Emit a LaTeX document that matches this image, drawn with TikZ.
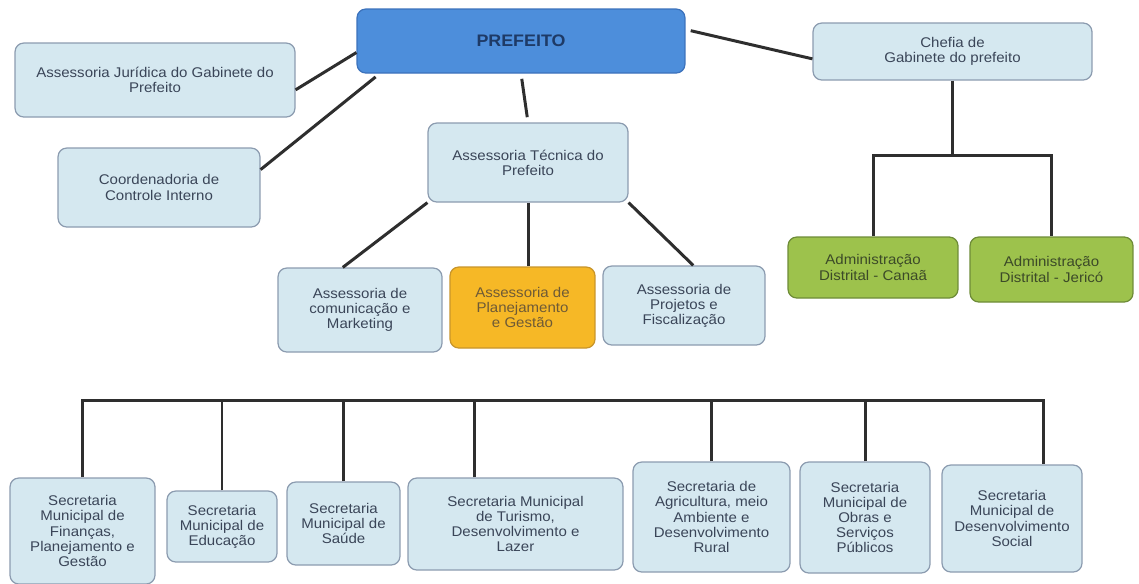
\documentclass[tikz,border=0pt]{standalone}
\usepackage{fontspec}
\setmainfont{Liberation Sans}[FakeStretch=1.07]
\usetikzlibrary{positioning}
\definecolor{boxblue}{HTML}{D5E8F0}
\definecolor{boxline}{HTML}{8C9CB0}
\definecolor{prefblue}{HTML}{4D8EDB}
\definecolor{prefline}{HTML}{3C72BC}
\definecolor{preftext}{HTML}{1E3A66}
\definecolor{distgreen}{HTML}{9DC24C}
\definecolor{distline}{HTML}{6E8C38}
\definecolor{disttext}{HTML}{3C4A28}
\definecolor{plangold}{HTML}{F6B826}
\definecolor{planline}{HTML}{C8952A}
\definecolor{plantext}{HTML}{6E5A36}
\definecolor{txtgray}{HTML}{3A4558}
\definecolor{linkgray}{HTML}{2E2E2E}

\begin{document}
\begin{tikzpicture}[x=0.02cm,y=-0.02cm]
\tikzstyle{every node}+=[inner sep=0pt]
\tikzstyle{orgbox}=[draw=boxline,fill=boxblue,line width=0.7pt,rounded corners=5pt,align=center,
  text=txtgray,font=\fontsize{8}{8.6}\selectfont]
\tikzstyle{topbox}=[orgbox,draw=prefline,fill=prefblue,text=preftext,font=\fontsize{9.5}{10}\selectfont\bfseries]
\tikzstyle{distbox}=[orgbox,draw=distline,fill=distgreen,text=disttext]
\tikzstyle{planbox}=[orgbox,draw=planline,fill=plangold,text=plantext]
\tikzstyle{link}=[draw=linkgray,line width=1.7pt]
\useasboundingbox (0,0) rectangle (1139,583);
\fill[white] (0,0) rectangle (1139,583);

\node[topbox,minimum width=6.56cm,minimum height=1.28cm] (pref) at (521,41) {PREFEITO};
\node[orgbox,minimum width=5.6cm,minimum height=1.48cm] (jur) at (155,80) {Assessoria Jurídica do Gabinete do\\Prefeito};
\node[orgbox,minimum width=4.04cm,minimum height=1.58cm] (coo) at (159,187.5) {Coordenadoria de\\Controle Interno};
\node[orgbox,minimum width=4.0cm,minimum height=1.58cm] (tec) at (528,162.5) {Assessoria Técnica do\\Prefeito};
\node[orgbox,minimum width=5.58cm,minimum height=1.14cm] (chefia) at (952.5,51.5) {Chefia de\\Gabinete do prefeito};
\node[distbox,minimum width=3.4cm,minimum height=1.22cm] (canaa) at (873,267.5) {Administração\\Distrital - Canaã};
\node[distbox,minimum width=3.26cm,minimum height=1.3cm] (jerico) at (1051.5,269.5) {Administração\\Distrital - Jericó};
\node[orgbox,minimum width=3.28cm,minimum height=1.68cm] (com) at (360,310) {Assessoria de\\comunicação e\\Marketing};
\node[planbox,minimum width=2.9cm,minimum height=1.62cm] (plan) at (522.5,307.5) {Assessoria de\\Planejamento\\e Gestão};
\node[orgbox,minimum width=3.24cm,minimum height=1.58cm] (proj) at (684,305.5) {Assessoria de\\Projetos e\\Fiscalização};

\node[orgbox,minimum width=2.9cm,minimum height=2.12cm] (fin) at (82.5,531) {Secretaria\\Municipal de\\Finanças,\\Planejamento e\\Gestão};
\node[orgbox,minimum width=2.2cm,minimum height=1.42cm] (edu) at (222,526.5) {Secretaria\\Municipal de\\Educação};
\node[orgbox,minimum width=2.26cm,minimum height=1.66cm] (sau) at (343.5,523.5) {Secretaria\\Municipal de\\Saúde};
\node[orgbox,minimum width=4.3cm,minimum height=1.84cm] (tur) at (515.5,524) {Secretaria Municipal\\de Turismo,\\Desenvolvimento e\\Lazer};
\node[orgbox,minimum width=3.14cm,minimum height=2.2cm] (agr) at (711.5,517) {Secretaria de\\Agricultura, meio\\Ambiente e\\Desenvolvimento\\Rural};
\node[orgbox,minimum width=2.6cm,minimum height=2.22cm] (obr) at (865,517.5) {Secretaria\\Municipal de\\Obras e\\Serviços\\Públicos};
\node[orgbox,minimum width=2.8cm,minimum height=2.14cm] (soc) at (1012,518.5) {Secretaria\\Municipal de\\Desenvolvimento\\Social};

\coordinate (chbus) at (0,155);
\coordinate (secbus) at (0,400);

\draw[link] (jur.-4) -- (pref.184);
\draw[link,shorten >=3pt] (coo.10) -- (pref.193);
\draw[link,shorten <=3pt,shorten >=3pt] (pref.south) -- (tec.north);
\draw[link,shorten <=3pt] (pref.4) -- (chefia.183);
\draw[link] (chefia.south) -- (chefia.south |- chbus);
\draw[link] (canaa.north) |- (jerico.north |- chbus) -- (jerico.north);
\draw[link] (tec.south west) -- (com.112);
\draw[link] (tec.south) -- (tec.south |- plan.north);
\draw[link] (tec.south east) -- (proj.77);
\draw[link] (fin.north) |- (soc.60 |- secbus) -- (soc.60);
\foreach \s in {edu.north,sau.north,tur.131,agr.north,obr.north}
  \draw[link] (\s) -- (\s |- secbus);
\end{tikzpicture}
\end{document}
